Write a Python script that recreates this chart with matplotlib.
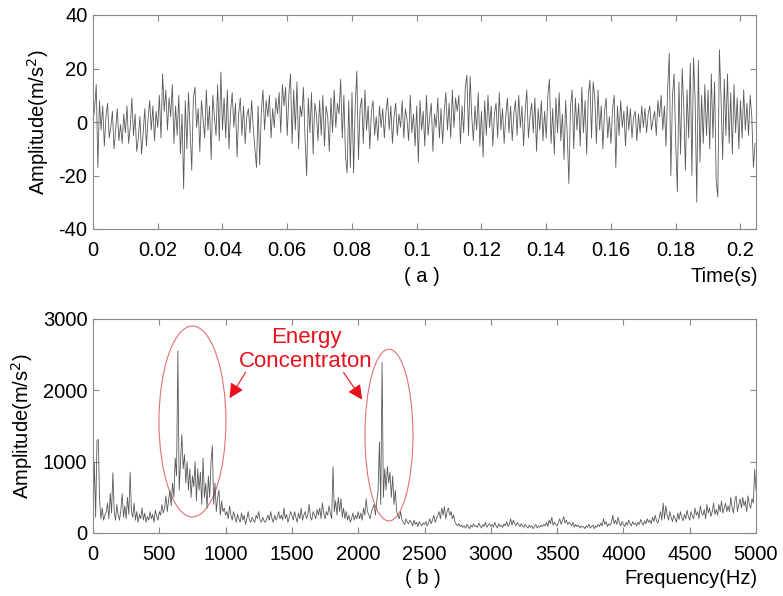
import numpy as np
import matplotlib
matplotlib.use("Agg")
import matplotlib.pyplot as plt
from matplotlib.patches import Ellipse

plt.rcParams['font.family'] = ['Liberation Sans', 'DejaVu Sans']
plt.rcParams['axes.unicode_minus'] = False

# time signal, one value every 0.5 ms
dt = 0.0005
acc = [
    0, 5, 14, -17, 8, -3, 6, -9, 2, 7, -6, -2, 4, -10, -3, 5, -7, -1, -8, 3,
    -4, 6, -8, -2, 9, -5, 3, -11, -6, 2, -12, -4, 5, -9, 1, 8, -3, 6, -7, 4,
    -2, 10, -6, 18, 4, 12, -3, 9, 2, 14, -8, 6, -5, 10, -12, 3, -25, 8, -10, 11,
    -4, -18, 9, 13, -2, 5, -11, 8, 1, -6, 12, -3, 6, -14, 10, 2, -5, 14, -7, 18.7,
    -3, 9, -6, 12, -10, 4, 11, -2, 7, -13, 3, 9, -5, 6, -8, 2, 5, -4, 8, -2,
    -10, -17, 6, -16, 4, 12, -3, 8, 2, 10, -6, 5, -2, 9, 3, 11, -4, 14, 6, 13,
    -5, 10, 18, -8, 12, -3, 15, -10, 6, 2, 13, -6, -20, 9, -4, 11, -12, 7, 3, -7,
    8, -5, 10, -9, 6, 2, -11, 9, -4, 12, -2, 7, 3, 16, -6, 10, -13, -19, 8, -17,
    11, -19, 6, 19, -14, 5, 9, -8, 12, -3, 6, -10, 4, 8, -5, 2, -7, 6, -2, 5,
    -6, 4, 9, -3, 6, -8, 2, 7, -5, 3, -2, 8, -6, 5, 1, -7, 10, -4, 3, -9,
    6, -15, 8, -3, 4, -9, 10, -5, 2, 7, -11, 3, -2, 9, -6, 5, -8, 4, 11, -3,
    7, -6, 12, -2, 9, 4, 10, -8, 6, -4, 13, 17.5, -5, 17, 2, -7, 6, -3, 11, -9,
    4, -13, 8, -5, 10, -2, 6, -9, 3, 7, -6, 11, -3, 5, -8, 2, 9, -4, 6, -7,
    3, 8, -5, 10, -2, 6, -9, 4, 12, -6, 2, 7, -4, 9, -11, 5, -3, 8, -7, 4,
    -6, 10, 16, -8, 5, -12, 9, -4, 11, -7, 3, -14, 8, -5, -23, 6, 12, -10, 9, -3,
    7, -9, 13, -4, 8, -12, 10, 15.7, -6, 15, 9, -8, 12, -3, 6, -10, 4, 9, -6, 2,
    -8, 5, 10, -17, 6, -5, 8, -2, 4, -9, 6, -3, 5, -6, 2, 4, -7, 3, -4, 6,
    -2, 5, -4, 3, 6, -3, 1, 4, -5, 8, 2, 10, -3, 6, -9, 12, 25.7, -20, 10, 18,
    -8, -26, 15, -12, 20, 5, -18, 12, -6, 22, -20, 24, 8, -30, 23, -15, 10, -8, 14, -5,
    12, -10, 18, -6, 15, -22, -28, 27, 9, -14, 16, -5, 18, -8, 11, -12, 14, -4, 9, -10,
    8, -6, 12, -3, 7, -5, 10, 2, -17, -8,
]

# spectrum, one value every 10 Hz
df = 10
spec = [
    120, 990, 220, 1300, 1310, 450, 200, 350, 180, 250,
    300, 420, 200, 560, 280, 845, 300, 180, 400, 250,
    180, 320, 550, 220, 380, 200, 500, 260, 852, 300,
    220, 420, 180, 300, 150, 260, 200, 350, 180, 280,
    150, 230, 180, 300, 200, 260, 150, 320, 240, 180,
    300, 250, 400, 280, 350, 520, 300, 460, 600, 380,
    700, 500, 1050, 800, 2550, 600, 1000, 1380, 900, 1100,
    700, 1000, 600, 900, 500, 800, 650, 1000, 450, 900,
    600, 850, 400, 1050, 500, 700, 350, 800, 500, 1000,
    1225, 400, 700, 300, 500, 600, 250, 450, 300, 350,
    250, 300, 200, 380, 250, 180, 300, 220, 150, 260,
    200, 150, 280, 180, 250, 120, 200, 300, 180, 150,
    220, 180, 150, 250, 200, 300, 180, 150, 220, 170,
    150, 200, 250, 180, 300, 200, 150, 250, 180, 220,
    300, 200, 250, 180, 350, 200, 260, 150, 220, 300,
    250, 180, 300, 220, 150, 280, 200, 350, 180, 250,
    300, 200, 250, 400, 220, 180, 300, 250, 200, 330,
    250, 350, 200, 420, 280, 200, 300, 250, 380, 280,
    200, 930, 300, 450, 250, 500, 300, 480, 220, 350,
    200, 300, 180, 250, 150, 200, 280, 180, 250, 200,
    300, 200, 280, 180, 350, 250, 480, 300, 250, 200,
    300, 350, 400, 250, 450, 600, 1280, 400, 2390, 500,
    900, 600, 930, 700, 850, 500, 800, 400, 600, 300,
    250, 200, 300, 180, 150, 120, 200, 150, 130, 180,
    150, 100, 180, 120, 150, 90, 160, 120, 100, 140,
    120, 160, 100, 140, 200, 130, 180, 250, 150, 200,
    250, 300, 200, 350, 250, 370, 200, 300, 350, 250,
    300, 200, 250, 150, 120, 100, 130, 90, 110, 80,
    100, 70, 120, 90, 60, 110, 80, 130, 90, 100,
    80, 140, 100, 70, 120, 90, 150, 80, 110, 130,
    90, 120, 80, 150, 100, 70, 130, 90, 110, 80,
    130, 100, 160, 90, 120, 200, 110, 180, 130, 100,
    150, 120, 90, 130, 100, 80, 120, 90, 70, 110,
    80, 100, 60, 90, 120, 70, 100, 80, 110, 90,
    120, 100, 150, 90, 180, 130, 220, 110, 150, 120,
    100, 150, 200, 120, 170, 230, 140, 180, 120, 150,
    130, 100, 150, 80, 120, 90, 110, 70, 100, 80,
    90, 60, 100, 80, 120, 70, 90, 110, 60, 100,
    80, 120, 90, 140, 100, 200, 120, 160, 90, 130,
    110, 150, 250, 130, 180, 120, 220, 140, 100, 160,
    120, 90, 150, 110, 180, 130, 100, 160, 120, 140,
    100, 150, 120, 190, 140, 110, 170, 130, 200, 150,
    180, 130, 220, 160, 250, 170, 140, 210, 300, 180,
    420, 200, 380, 250, 180, 300, 220, 160, 250, 200,
    150, 280, 190, 300, 220, 170, 260, 200, 320, 230,
    180, 300, 240, 200, 350, 250, 300, 200, 380, 280,
    250, 330, 200, 400, 280, 350, 230, 300, 420, 260,
    330, 250, 400, 300, 450, 280, 350, 420, 300, 380,
    300, 500, 350, 280, 450, 520, 300, 400, 480, 350,
    500, 380, 450, 300, 520, 400, 350, 480, 420, 890,
    600,
]

t = np.arange(len(acc)) * dt
f = np.arange(len(spec)) * df

W, H = 783, 596
fig = plt.figure(figsize=(W / 100, H / 100), dpi=100)
ax1 = fig.add_axes([93 / W, 1 - 229 / H, 663 / W, 214 / H])
ax2 = fig.add_axes([93 / W, 1 - 533 / H, 663 / W, 214 / H])

line_c = '#5a5a5a'
ax1.plot(t, acc, color=line_c, lw=0.6)
ax2.plot(f, spec, color=line_c, lw=0.6)

ax1.set_xlim(0, 0.2048)
ax1.set_ylim(-40, 40)
ax1.set_xticks(np.arange(0, 0.201, 0.02))
ax1.set_xticklabels(['0', '0.02', '0.04', '0.06', '0.08', '0.1',
                     '0.12', '0.14', '0.16', '0.18', '0.2'])
ax1.set_yticks([-40, -20, 0, 20, 40])

ax2.set_xlim(0, 5000)
ax2.set_ylim(0, 3000)
ax2.set_xticks(np.arange(0, 5001, 500))
ax2.set_yticks([0, 1000, 2000, 3000])

fs = 14.5
for ax, lx in ((ax1, -0.064), (ax2, -0.088)):
    for s in ax.spines.values():
        s.set_color('#888888')
        s.set_linewidth(0.8)
    ax.tick_params(direction='in', top=True, right=True, length=4,
                   color='#888888', labelsize=fs, labelcolor='black')
    ax.tick_params(axis='x', pad=9)
    ax.tick_params(axis='y', pad=4)
    ax.set_ylabel('Amplitude(m/s$^2$)', fontsize=fs)
    ax.yaxis.set_label_coords(lx, 0.5)

# annotations on the spectrum
red = '#e8101a'
ax2.add_patch(Ellipse((750, 1563), 505, 2676, fill=False, ec='#e47070', lw=0.8))
ax2.add_patch(Ellipse((2232, 1373), 362, 2408, fill=False, ec='#e47070', lw=0.8))
ax2.text(1606, 2740, 'Energy', color=red, fontsize=16, ha='center', va='center')
ax2.text(1606, 2410, 'Concentraton', color=red, fontsize=16, ha='center', va='center')
ax2.annotate('', xy=(1030, 1890), xytext=(1150, 2250),
             arrowprops=dict(arrowstyle='-|>', color=red, lw=0.8, mutation_scale=22,
                             shrinkA=0, shrinkB=0))
ax2.annotate('', xy=(2030, 1870), xytext=(1890, 2250),
             arrowprops=dict(arrowstyle='-|>', color=red, lw=0.8, mutation_scale=22,
                             shrinkA=0, shrinkB=0))

fig.text(422 / W, 1 - 276 / H, '( a )', fontsize=fs, ha='center', va='center')
fig.text(758 / W, 1 - 276 / H, 'Time(s)', fontsize=fs, ha='right', va='center')
fig.text(423 / W, 1 - 579 / H, '( b )', fontsize=fs, ha='center', va='center')
fig.text(758 / W, 1 - 579 / H, 'Frequency(Hz)', fontsize=fs, ha='right', va='center')

fig.savefig('out.png', dpi=100)
